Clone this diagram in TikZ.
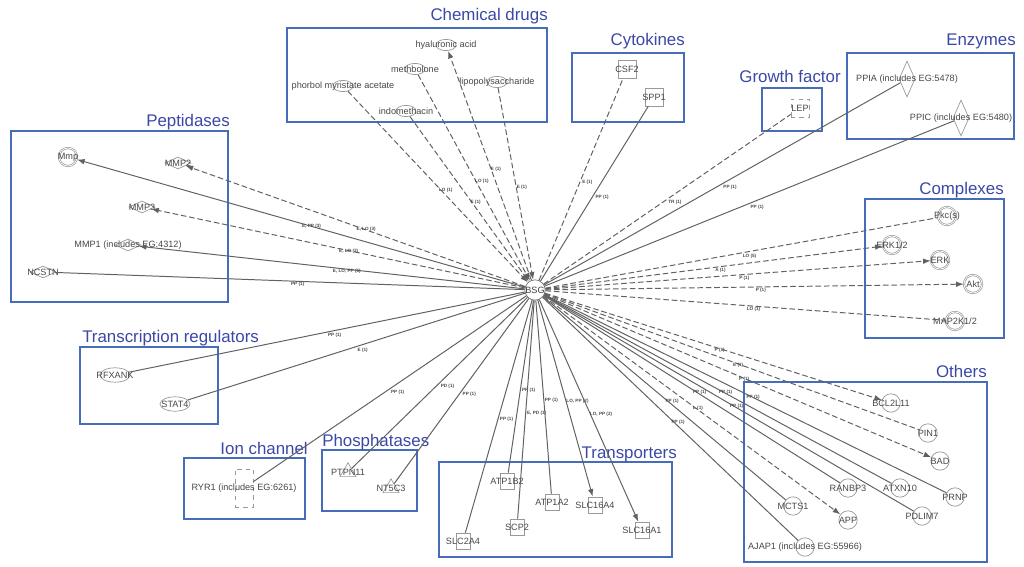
\documentclass[tikz,border=0pt]{standalone}
\usepackage{fontspec}
\setmainfont{Liberation Sans}
\usetikzlibrary{shapes.geometric,arrows.meta}
\definecolor{grpblue}{RGB}{72,108,188}
\definecolor{ttlblue}{RGB}{58,72,166}
\tikzset{
  grp/.style={draw=grpblue, line width=1.2pt},
  ttl/.style={text=ttlblue, font=\fontsize{12}{14}\selectfont, inner sep=0pt},
  mol/.style={draw=black!40, line width=0.5pt, inner sep=0pt},
  hub/.style={mol, circle, draw=black!55, minimum size=5mm, font=\fontsize{6.5}{7}\selectfont, text=black!75},
  chem/.style={mol, ellipse, minimum width=5mm, minimum height=2.8mm},
  tfac/.style={mol, ellipse, minimum width=7.5mm, minimum height=3.6mm},
  cyto/.style={mol, rectangle, minimum size=4.5mm},
  gfac/.style={cyto, dashed},
  enz/.style={mol, diamond, minimum width=4mm, minimum height=9mm},
  pept/.style={mol, diamond, minimum width=6.5mm, minimum height=3mm},
  cplx/.style={mol, circle, minimum size=4.5mm, double=white, double distance=0.5pt},
  oth/.style={mol, circle, minimum size=4.6mm},
  trp/.style={mol, rectangle, minimum width=3.5mm, minimum height=4mm},
  phos/.style={mol, regular polygon, regular polygon sides=3, minimum size=4.6mm},
  ion/.style={mol, rectangle, dashed, minimum width=4.5mm, minimum height=9.5mm},
  rel/.style={draw=black!62, line width=0.7pt},
  relx/.style={rel, dash pattern=on 4pt off 2pt},
  tip/.style={-{Latex[length=1.9mm,width=1.4mm]}},
  lab/.style={font=\fontsize{3.3}{3.7}\selectfont\bfseries, text=black!70, inner sep=0.5pt, anchor=north west}
}
\begin{document}
\begin{tikzpicture}[x=0.25mm,y=-0.25mm,
  every label/.append style={font=\fontsize{6.5}{7}\selectfont, text=black!72, inner sep=0pt}]
\useasboundingbox (0,0) rectangle (1024,567);
% hub
\node[hub] (bsg) at (535,290) {BSG};
% group frames and titles
\draw[grp] (287,28) rectangle (547,122);
\node[ttl, anchor=base east] (t-chem) at (548,21) {Chemical drugs};
\draw[grp] (572,53) rectangle (684,122);
\node[ttl, anchor=base east] (t-cyto) at (685,46) {Cytokines};
\draw[grp] (762,88) rectangle (822,131);
\node[ttl, anchor=base] (t-gfac) at (790,83) {Growth factor};
\draw[grp] (847,53) rectangle (1014,139);
\node[ttl, anchor=base east] (t-enz) at (1016,46) {Enzymes};
\draw[grp] (865,199) rectangle (1004,338);
\node[ttl, anchor=base east] (t-cplx) at (1004,194) {Complexes};
\draw[grp] (744,382) rectangle (987,562);
\node[ttl, anchor=base east] (t-oth) at (987,377) {Others};
\draw[grp] (439,462) rectangle (672,557);
\node[ttl, anchor=base east] (t-trp) at (677,458) {Transporters};
\draw[grp] (322,450) rectangle (417,511);
\node[ttl, anchor=base west] (t-phos) at (322,446) {Phosphatases};
\draw[grp] (184,458) rectangle (305,519);
\node[ttl, anchor=base east] (t-ion) at (308,454) {Ion channel};
\draw[grp] (80,347) rectangle (218,424);
\node[ttl, anchor=base west] (t-tfac) at (82,342) {Transcription regulators};
\draw[grp] (11,131) rectangle (228,302);
\node[ttl, anchor=base east] (t-pept) at (230,126) {Peptidases};
% chemical drugs
\node[chem, label={center:hyaluronic acid}] (hya) at (446,45) {};
\node[chem, label={center:methbolone}] (meth) at (415,69) {};
\node[chem, label={center:lipopolysaccharide}] (lps) at (497,82) {};
\node[chem, label={center:phorbol myristate acetate}] (pma) at (343,86) {};
\node[chem, label={center:indomethacin}] (indo) at (406,111) {};
% cytokines, growth factor, enzymes
\node[cyto, label={center:CSF2}] (csf2) at (627,69) {};
\node[cyto, label={center:SPP1}] (spp1) at (654,97) {};
\node[gfac, label={center:LEP}] (lep) at (800,108) {};
\node[enz, label={center:PPIA (includes EG:5478)}] (ppia) at (907,79) {};
\node[enz, label={center:PPIC (includes EG:5480)}] (ppic) at (961,118) {};
% complexes
\node[cplx, label={center:Pkc(s)}] (pkc) at (947,216) {};
\node[cplx, label={center:ERK1/2}] (erk12) at (892,245) {};
\node[cplx, label={center:ERK}] (erk) at (940,260) {};
\node[cplx, label={center:Akt}] (akt) at (973,284) {};
\node[cplx, label={center:MAP2K1/2}] (mek) at (955,321) {};
% others
\node[oth, label={center:BCL2L11}] (bcl) at (891,403) {};
\node[oth, label={center:PIN1}] (pin1) at (928,433) {};
\node[oth, label={center:BAD}] (bad) at (940,461) {};
\node[oth, label={center:PRNP}] (prnp) at (955,497) {};
\node[oth, label={center:ATXN10}] (atxn) at (900,488) {};
\node[oth, label={center:PDLIM7}] (pdlim) at (922,516) {};
\node[oth, label={center:RANBP3}] (ranbp) at (848,488) {};
\node[oth, label={center:MCTS1}] (mcts) at (793,506) {};
\node[oth, label={center:APP}] (app) at (848,520) {};
\node[oth, label={center:AJAP1 (includes EG:55966)}] (ajap) at (805,547) {};
% transporters
\node[trp, label={center:ATP1B2}] (atp1b2) at (507,481) {};
\node[trp, label={center:SCP2}] (scp2) at (517,527) {};
\node[trp, label={center:ATP1A2}] (atp1a2) at (552,502) {};
\node[trp, label={center:SLC16A4}] (slc16a4) at (595,505) {};
\node[trp, label={center:SLC16A1}] (slc16a1) at (642,530) {};
\node[trp, label={center:SLC2A4}] (slc2a4) at (463,541) {};
% phosphatases, ion channel
\node[phos, label={center:PTPN11}] (ptpn) at (348,472) {};
\node[phos, label={center:NT5C3}] (nt5c3) at (391,488) {};
\node[ion, label={center:RYR1 (includes EG:6261)}] (ryr1) at (244,488) {};
% transcription regulators
\node[tfac, label={center:RFXANK}] (rfx) at (115,375) {};
\node[tfac, label={center:STAT4}] (stat4) at (175,404) {};
% peptidases
\node[cplx, label={center:Mmp}] (mmp) at (68,157) {};
\node[pept, label={center:MMP2}] (mmp2) at (178,163) {};
\node[pept, label={center:MMP3}] (mmp3) at (142,207) {};
\node[pept, label={center:MMP1 (includes EG:4312)}] (mmp1) at (128,245) {};
\node[pept, label={center:NCSTN}] (ncstn) at (43,272) {};
% relations
\foreach \nd/\lb in {ncstn/{PP (1)}, rfx/{PP (1)}, stat4/{E (1)}, ryr1/{PP (1)}, ptpn/{PD (1)},
    nt5c3/{PP (1)}, slc2a4/{PP (1)}, atp1b2/{PP (1)}, scp2/{E, PD (1)}, atp1a2/{PP (1)},
    spp1/{PP (1)}, ppia/{PP (1)}, ppic/{PP (1)}, prnp/{PP (1)}, atxn/{PP (1)}, pdlim/{PP (1)},
    ranbp/{PP (1)}, mcts/{PP (1)}, ajap/{PP (1)}}
  \draw[rel] (bsg) -- node[lab] {\lb} (\nd);
\foreach \nd/\lb in {mmp/{E, PP (3)}, mmp1/{E, LO, PP (5)}, slc16a4/{LO, PP (2)}, slc16a1/{LO, PP (2)}}
  \draw[rel, tip] (bsg) -- node[lab] {\lb} (\nd);
\foreach \nd/\lb in {csf2/{E (1)}, lep/{TR (1)}, pkc/{LO (5)}, mek/{LO (1)}, pin1/{E (1)}}
  \draw[relx] (bsg) -- node[lab] {\lb} (\nd);
\foreach \nd/\lb in {mmp2/{E, LO (3)}, mmp3/{E, LO (2)}, hya/{E (1)}, erk12/{A (1)}, erk/{P (1)},
    akt/{P (1)}, bcl/{P (1)}, bad/{P (1)}, app/{L (1)}}
  \draw[relx, tip] (bsg) -- node[lab] {\lb} (\nd);
\foreach \nd/\lb in {pma/{LO (1)}, indo/{E (1)}, meth/{LO (1)}, lps/{E (1)}}
  \draw[relx, tip] (\nd) -- node[lab] {\lb} (bsg);
\end{tikzpicture}
\end{document}
